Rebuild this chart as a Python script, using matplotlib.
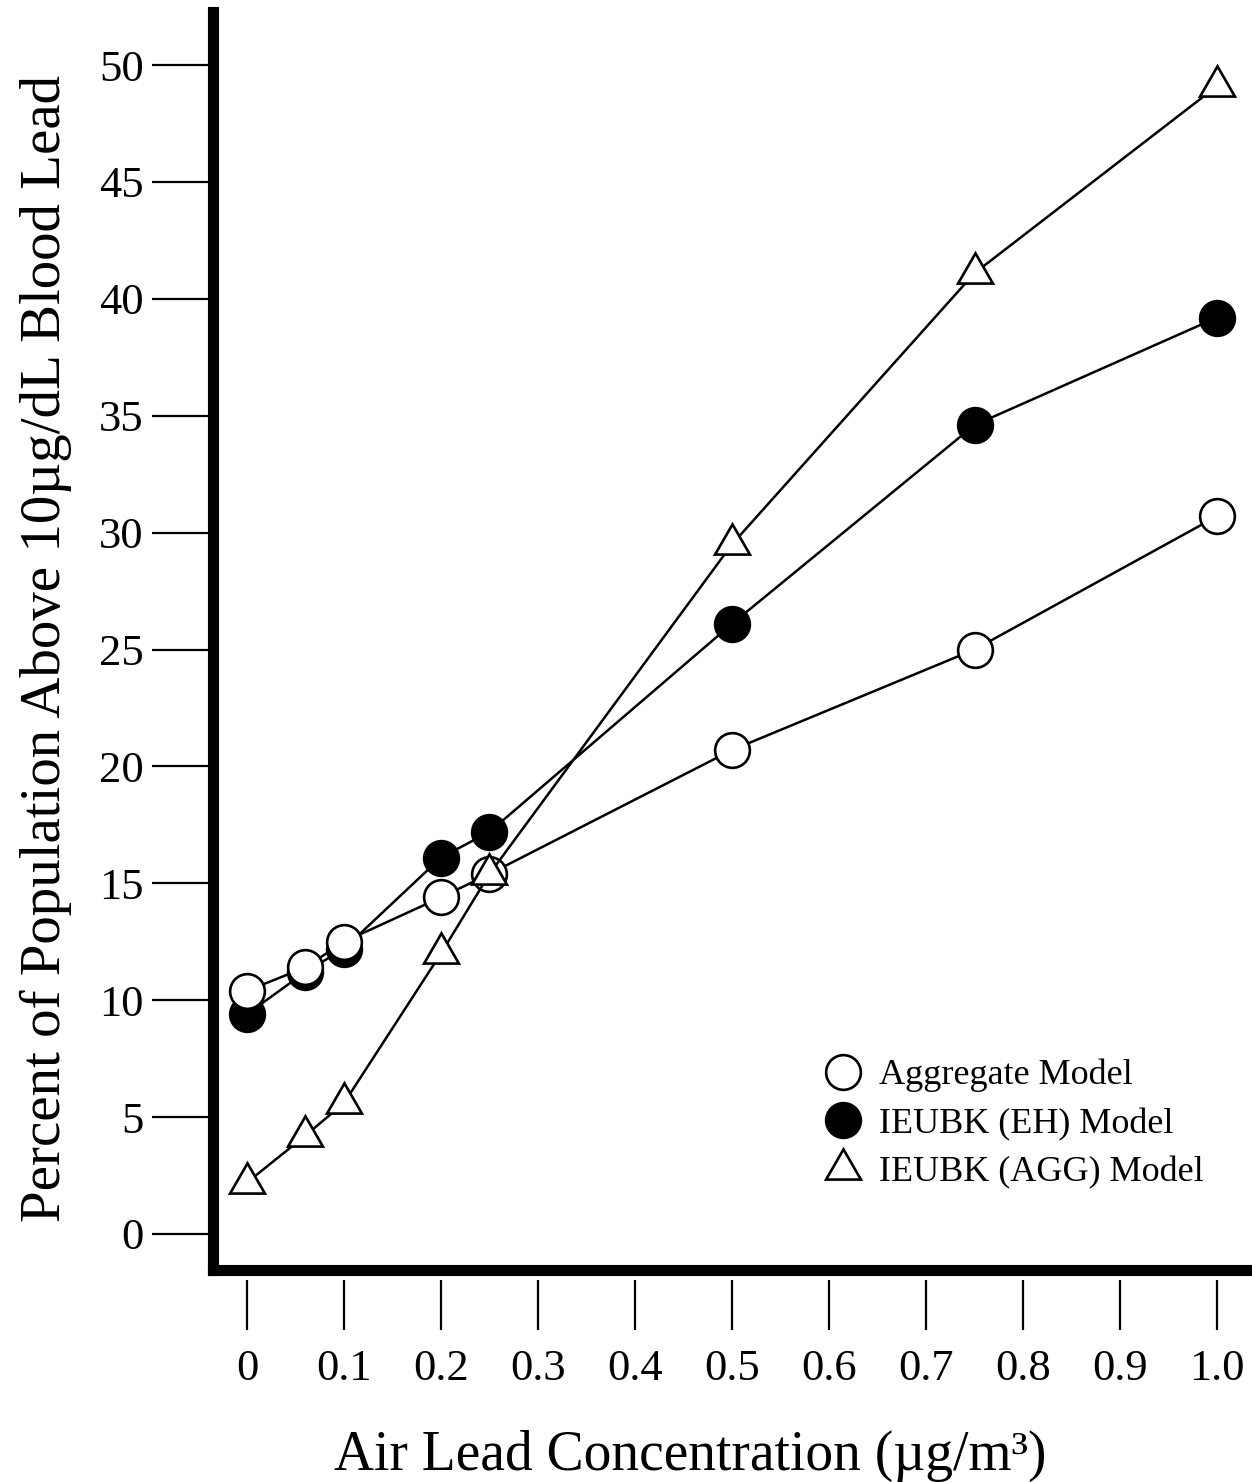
import numpy as np
import matplotlib
matplotlib.use('Agg')
import matplotlib.pyplot as plt
from matplotlib.lines import Line2D
from matplotlib import transforms

plt.rcParams['font.family'] = ['Liberation Serif', 'DejaVu Serif']

# air lead concentration, ug/m3
air_lead = [0, 0.06, 0.1, 0.2, 0.25, 0.5, 0.75, 1.0]
# percent of population above 10 ug/dL blood lead
aggregate = [10.4, 11.4, 12.5, 14.4, 15.4, 20.7, 25.0, 30.7]
ieubk_eh = [9.4, 11.2, 12.2, 16.1, 17.2, 26.1, 34.6, 39.2]
ieubk_agg = [2.2, 4.2, 5.6, 12.0, 15.4, 29.5, 41.1, 49.1]

x_ticks = [0, 0.1, 0.2, 0.3, 0.4, 0.5, 0.6, 0.7, 0.8, 0.9, 1.0]
x_ticklabels = ['0', '0.1', '0.2', '0.3', '0.4', '0.5', '0.6', '0.7', '0.8', '0.9', '1.0']
y_ticks = [0, 5, 10, 15, 20, 25, 30, 35, 40, 45, 50]

W, H = 1252, 1482
fig = plt.figure(figsize=(W / 100, H / 100), dpi=100)
# axes box in pixels: left 213, right 1250, top 12, bottom 1270
ax = fig.add_axes([213 / W, 1 - 1270 / H, (1250 - 213) / W, (1270 - 12) / H])

lw = 1.8
ms_c = 25
ms_t = 29
tri = (3, 0, 0)   # equilateral triangle, centred on its centroid
mew = 1.9

# filled circles first, open circles and triangles over them
ax.plot(air_lead, ieubk_eh, color='black', lw=lw, marker='o', ms=ms_c,
        mfc='black', mec='black', mew=mew, zorder=3)
ax.plot(air_lead, aggregate, color='black', lw=lw, marker='o', ms=ms_c,
        mfc='white', mec='black', mew=mew, zorder=4)
ax.plot(air_lead, ieubk_agg, color='black', lw=lw, marker=tri, ms=ms_t,
        mfc='white', mec='black', mew=mew, zorder=5)

ax.set_xlim(-0.035, 1.034)
ax.set_ylim(-1.54, 52.27)

for s in ['top', 'right']:
    ax.spines[s].set_visible(False)
for s in ['left', 'bottom']:
    ax.spines[s].set_linewidth(8)
    ax.spines[s].set_capstyle('projecting')

ax.set_yticks(y_ticks)
ax.set_yticklabels([str(v) for v in y_ticks])
ax.tick_params(axis='y', direction='out', length=44, width=1.6, pad=6,
               labelsize=32)

ax.set_xticks(x_ticks)
ax.set_xticklabels(x_ticklabels)
ax.tick_params(axis='x', length=0, pad=57, labelsize=32)

# x tick marks stand apart from the axis line
trans = transforms.blended_transform_factory(ax.transData, ax.transAxes)
ax.vlines(x_ticks, -(1330 - 1270) / 1258, -(1280 - 1270) / 1258,
          transform=trans, color='black', lw=1.6, clip_on=False)

ax.set_xlabel('Air Lead Concentration (µg/m³)', fontsize=40)
ax.xaxis.set_label_coords(0.46, -(1430 - 1270) / 1258)
ax.set_ylabel('Percent of Population Above 10µg/dL Blood Lead', fontsize=41)
ax.yaxis.set_label_coords(-(213 - 72) / 1037, 0.494)

handles = [
    Line2D([], [], ls='none', marker='o', ms=ms_c, mfc='white', mec='black', mew=mew),
    Line2D([], [], ls='none', marker='o', ms=ms_c, mfc='black', mec='black', mew=mew),
    Line2D([], [], ls='none', marker=tri, ms=ms_t, mfc='white', mec='black', mew=mew),
]
labels = ['Aggregate Model', 'IEUBK (EH) Model', 'IEUBK (AGG) Model']
ax.legend(handles, labels, loc='upper left', frameon=False, fontsize=26,
          bbox_to_anchor=(825 / W, 1 - 1059 / H), bbox_transform=fig.transFigure,
          handlelength=1.0, handletextpad=0.5, labelspacing=0.42,
          borderpad=0, borderaxespad=0)

fig.savefig('out.png', dpi=100)
